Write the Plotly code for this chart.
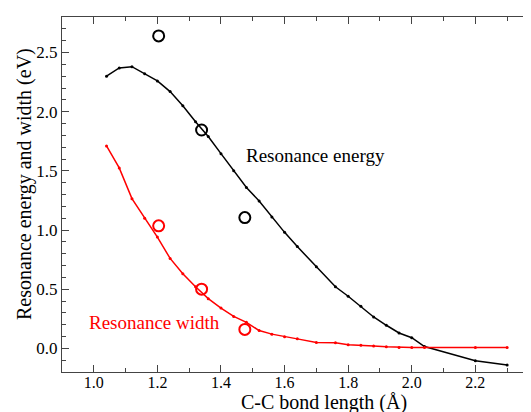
import plotly.graph_objects as go

bond_length = [1.04, 1.08, 1.12, 1.16, 1.20, 1.24, 1.28, 1.32, 1.36, 1.40, 1.44, 1.48,
               1.52, 1.56, 1.60, 1.64, 1.70, 1.76, 1.80, 1.84, 1.88, 1.92, 1.96, 2.00,
               2.04, 2.20, 2.30]
res_energy = [2.30, 2.37, 2.38, 2.32, 2.26, 2.17, 2.05, 1.915, 1.79, 1.645, 1.50, 1.36,
              1.245, 1.11, 0.98, 0.86, 0.69, 0.52, 0.44, 0.355, 0.265, 0.195, 0.13, 0.09,
              0.015, -0.105, -0.14]
res_width = [1.71, 1.525, 1.265, 1.10, 0.94, 0.76, 0.63, 0.52, 0.42, 0.34, 0.27, 0.22,
             0.15, 0.12, 0.098, 0.08, 0.05, 0.048, 0.03, 0.027, 0.02, 0.013, 0.008, 0.006,
             0.006, 0.006, 0.006]

exp_length = [1.204, 1.339, 1.475]
exp_energy = [2.64, 1.845, 1.105]
exp_width = [1.035, 0.50, 0.16]

x_title = "C-C bond length (Å)"
y_title = "Resonance energy and width (eV)"

FONT = "Liberation Serif"
AX = "#444444"

fig = go.Figure()
fig.add_trace(go.Scatter(x=bond_length, y=res_energy, mode="lines+markers",
                         line=dict(color="black", width=1.5),
                         marker=dict(color="black", size=3), showlegend=False))
fig.add_trace(go.Scatter(x=bond_length, y=res_width, mode="lines+markers",
                         line=dict(color="#ff0000", width=1.5),
                         marker=dict(color="#ff0000", size=3), showlegend=False))
fig.add_trace(go.Scatter(x=exp_length, y=exp_energy, mode="markers",
                         marker=dict(symbol="circle-open", size=11, color="black",
                                     line=dict(width=2, color="black")), showlegend=False))
fig.add_trace(go.Scatter(x=exp_length, y=exp_width, mode="markers",
                         marker=dict(symbol="circle-open", size=11, color="#ff0000",
                                     line=dict(width=2, color="#ff0000")), showlegend=False))

fig.add_annotation(x=1.471, y=1.63, xref="x", yref="y", text="Resonance energy",
                   showarrow=False, xanchor="left", yanchor="middle",
                   font=dict(family=FONT, size=19, color="black"))
fig.add_annotation(x=0.98, y=0.218, xref="x", yref="y", text="Resonance width",
                   showarrow=False, xanchor="left", yanchor="middle",
                   font=dict(family=FONT, size=19, color="#ff0000"))

# axis titles (plot area: 469 x 355 px)
fig.add_annotation(x=(324 - 62) / 469, y=(372 - 403) / 355, xref="paper", yref="paper",
                   text=x_title, showarrow=False, xanchor="center", yanchor="middle",
                   font=dict(family=FONT, size=20, color="black"))
fig.add_annotation(x=(24 - 62) / 469, y=(372 - 184) / 355, xref="paper", yref="paper",
                   text=y_title, showarrow=False, xanchor="center", yanchor="middle",
                   textangle=-90, font=dict(family=FONT, size=20, color="black"))

fig.update_xaxes(range=[0.9, 2.375], showline=True, linecolor=AX, linewidth=1,
                 mirror="ticks", ticks="inside", ticklen=7, tickcolor=AX, tickwidth=1,
                 tick0=1.0, dtick=0.2, tickformat=".1f", automargin=False,
                 ticklabelstandoff=-4,
                 minor=dict(ticks="inside", ticklen=4, dtick=0.1, tick0=1.0, tickcolor=AX),
                 showgrid=False, zeroline=False,
                 tickfont=dict(family=FONT, size=16, color="black"))
fig.update_yaxes(range=[-0.2, 2.8], showline=True, linecolor=AX, linewidth=1,
                 mirror=False, ticks="inside", ticklen=7, tickcolor=AX, tickwidth=1,
                 tick0=0, dtick=0.5, tickformat=".1f", automargin=False,
                 minor=dict(ticks="inside", ticklen=4, dtick=0.1, tick0=0, tickcolor=AX),
                 showgrid=False, zeroline=False,
                 tickfont=dict(family=FONT, size=17, color="black"))

# the page adds an 8px body margin, so the figure is 523 x 404
fig.update_layout(width=523, height=404, margin=dict(l=54, r=0, t=9, b=40),
                  paper_bgcolor="white", plot_bgcolor="white")

fig.write_html("out.html")
